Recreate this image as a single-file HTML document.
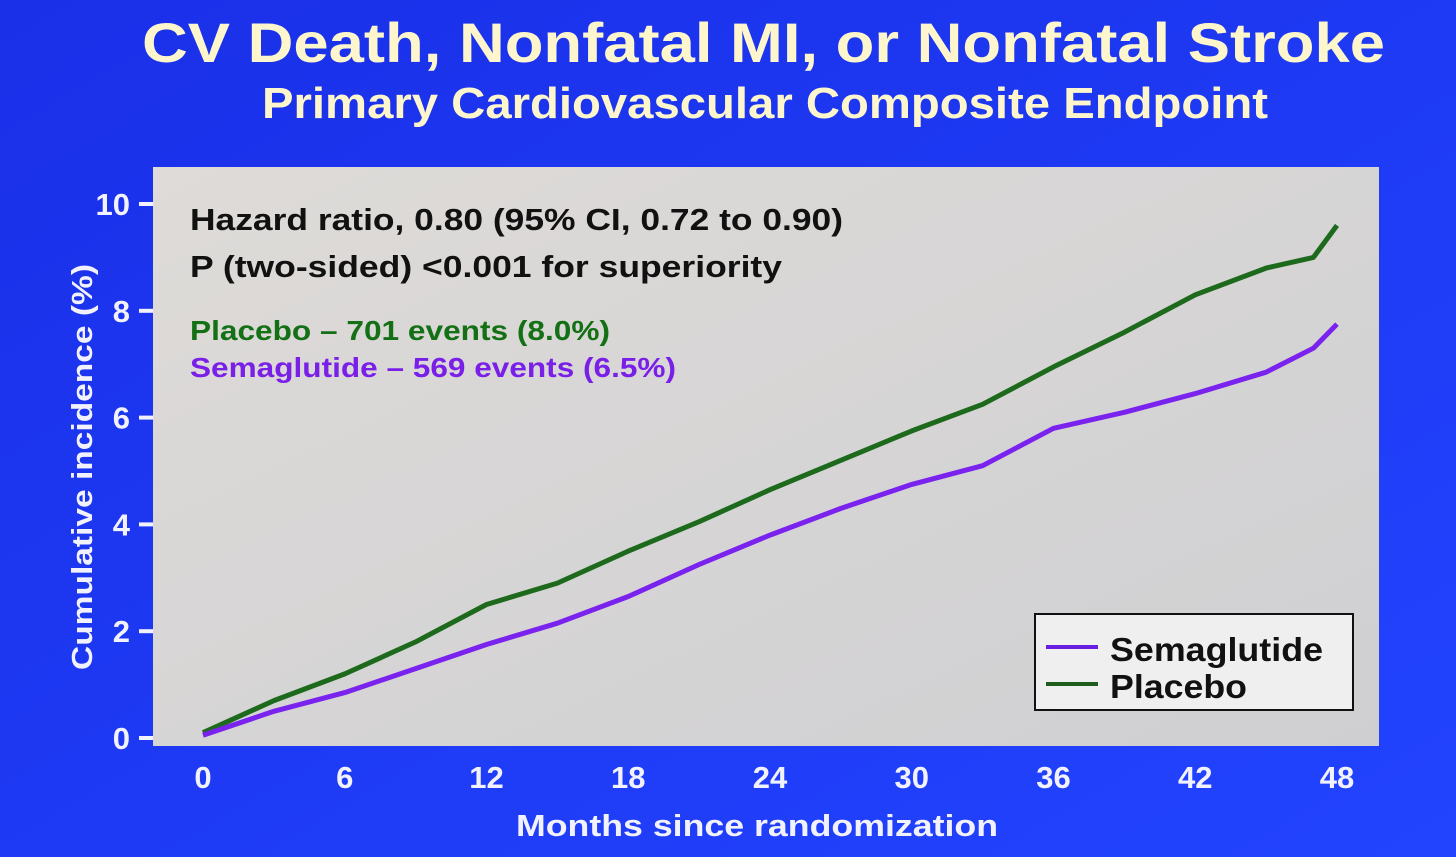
<!DOCTYPE html>
<html><head><meta charset="utf-8"><style>
body{margin:0;width:1456px;height:857px;overflow:hidden;background:#1c35f2;font-family:"Liberation Sans",sans-serif;}
svg{display:block}
</style></head><body>
<svg width="1456" height="857">
<defs><linearGradient id="bg" x1="0" y1="0" x2="1" y2="1"><stop offset="0" stop-color="#1a2fe8"/><stop offset="1" stop-color="#2244ff"/></linearGradient>
<linearGradient id="pn" x1="0" y1="0" x2="1" y2="1"><stop offset="0" stop-color="#dedbd8"/><stop offset="1" stop-color="#cfcfd2"/></linearGradient></defs>
<rect width="1456" height="857" fill="url(#bg)"/>
<text x="142" y="62" textLength="1243" lengthAdjust="spacingAndGlyphs" font-size="56" font-weight="bold" fill="#fdf6cc">CV Death, Nonfatal MI, or Nonfatal Stroke</text>
<text x="262" y="118" textLength="1006" lengthAdjust="spacingAndGlyphs" font-size="44" font-weight="bold" fill="#fdf6cc">Primary Cardiovascular Composite Endpoint</text>
<rect x="153" y="167" width="1226" height="579" fill="url(#pn)"/>
<g id="axes"></g>
<g id="series"></g>
<text x="190" y="230" textLength="653" lengthAdjust="spacingAndGlyphs" font-size="31" font-weight="bold" fill="#111">Hazard ratio, 0.80 (95% CI, 0.72 to 0.90)</text>
<text x="190" y="277" textLength="592" lengthAdjust="spacingAndGlyphs" font-size="31" font-weight="bold" fill="#111">P (two-sided) &lt;0.001 for superiority</text>
<text x="190" y="340" textLength="420" lengthAdjust="spacingAndGlyphs" font-size="28" font-weight="bold" fill="#137014">Placebo – 701 events (8.0%)</text>
<text x="190" y="377" textLength="486" lengthAdjust="spacingAndGlyphs" font-size="28" font-weight="bold" fill="#7a1fe8">Semaglutide – 569 events (6.5%)</text>
<g>
<rect x="1035" y="614" width="318" height="96" fill="#efefef" stroke="#111" stroke-width="2"/>
<line x1="1046" y1="647" x2="1098" y2="647" stroke="#6a1fe0" stroke-width="4"/>
<text x="1110" y="661" textLength="213" lengthAdjust="spacingAndGlyphs" font-size="33" font-weight="bold" fill="#111">Semaglutide</text>
<line x1="1046" y1="684" x2="1098" y2="684" stroke="#1d5e1d" stroke-width="4"/>
<text x="1110" y="698" textLength="137" lengthAdjust="spacingAndGlyphs" font-size="33" font-weight="bold" fill="#111">Placebo</text>
</g>
<text x="516" y="836" textLength="482" lengthAdjust="spacingAndGlyphs" font-size="31" font-weight="bold" fill="#f2f2ff">Months since randomization</text>
<text transform="translate(92,467) rotate(-90)" text-anchor="middle" font-size="29" font-weight="bold" fill="#f2f2ff" textLength="406" lengthAdjust="spacingAndGlyphs">Cumulative incidence (%)</text>
</svg>
<script>
const months=[0,3,6,9,12,15,18,21,24,27,30,33,36,39,42,45,47,48];
const placebo=[0.1,0.7,1.2,1.8,2.5,2.9,3.5,4.05,4.65,5.2,5.75,6.25,6.95,7.6,8.3,8.8,9.0,9.6];
const months2=[0,3,6,9,12,15,18,21,24,27,30,33,36,39,42,45,47,48];
const semaglutide=[0.05,0.5,0.85,1.3,1.75,2.15,2.65,3.25,3.8,4.3,4.75,5.1,5.8,6.1,6.45,6.85,7.3,7.75];
const xTicks=[0,6,12,18,24,30,36,42,48];
const yTicks=[0,2,4,6,8,10];
const NS='http://www.w3.org/2000/svg';
const X=m=>203+m*(1337-203)/48;
const Y=v=>738-v*(738-204)/10;
const ax=document.getElementById('axes');
function el(t,a,p){const e=document.createElementNS(NS,t);for(const k in a)e.setAttribute(k,a[k]);p.appendChild(e);return e;}
yTicks.forEach(v=>{
 const l=el('line',{x1:139,x2:153,y1:Y(v),y2:Y(v),stroke:'#f2f2ff','stroke-width':4},ax);
 
 
 const t=el('text',{x:130,y:Y(v)+11,'text-anchor':'end','font-size':31,'font-weight':'bold',fill:'#f2f2ff'},ax);
 t.textContent=v;
 
 
});
xTicks.forEach(m=>{
 const t=el('text',{x:X(m),y:788,'text-anchor':'middle','font-size':31,'font-weight':'bold',fill:'#f2f2ff'},ax);
 t.textContent=m;
 
 
});
const sg=document.getElementById('series');
function draw(xs,ys,c,n){
 let d='';xs.forEach((m,i)=>{d+=(i?'L':'M')+X(m).toFixed(1)+','+Y(ys[i]).toFixed(1);});
 const p=el('path',{d:d,fill:'none',stroke:c,'stroke-width':5,'stroke-linejoin':'round'},sg);
 
 
}
draw(months,placebo,'#1d6a1d','placebo-line');
draw(months2,semaglutide,'#7a22ee','semaglutide-line');
</script>
</body></html>
